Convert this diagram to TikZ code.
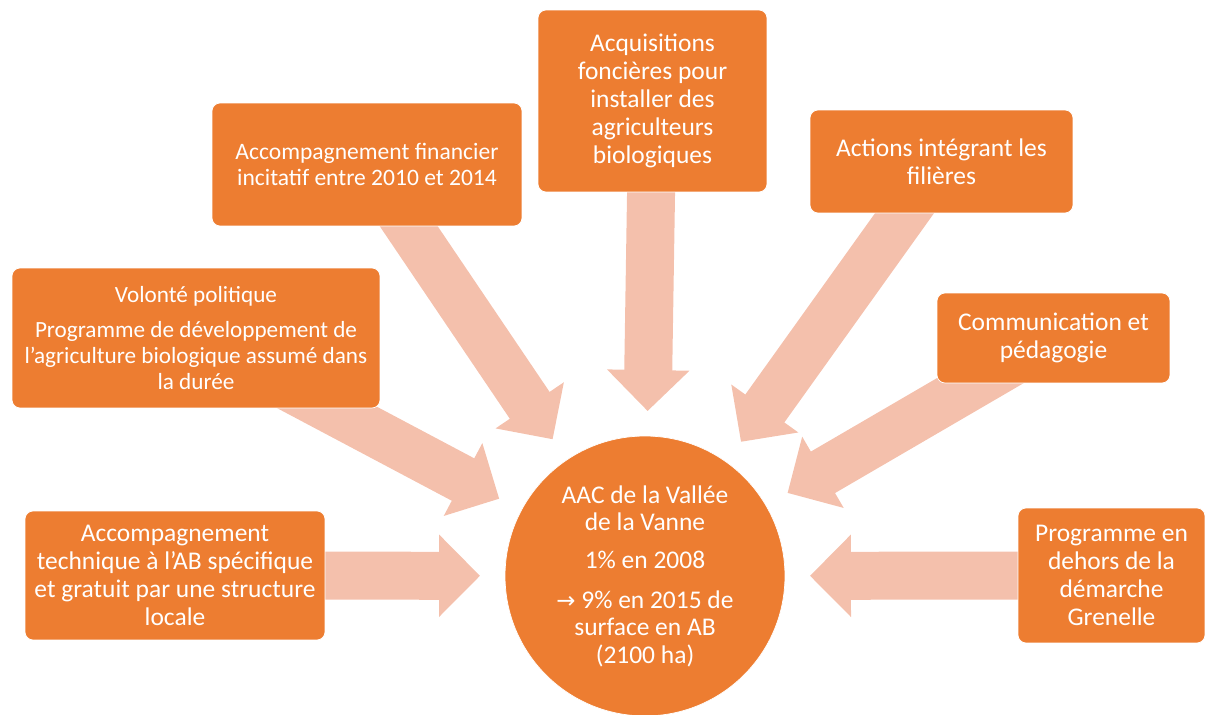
\documentclass[tikz,border=0pt]{standalone}
\usepackage{fontspec}
\setmainfont{Carlito}
\newfontfamily\symfont{DejaVu Sans}
\usetikzlibrary{arrows.meta,backgrounds}
\definecolor{boxorange}{HTML}{ED7D31}
\definecolor{arrowpink}{HTML}{F4C0AC}
\tikzstyle{box}=[draw=white,%
                 fill=boxorange,%
                 rectangle,%
                 rounded corners=0.16cm,%
                 text=white,%
                 align=center,%
                 inner sep=0pt,%
                 font=\fontsize{14.5}{15.9}\selectfont]
\tikzstyle{smallbox}=[box,font=\fontsize{13.2}{14.8}\selectfont]
\tikzstyle{hub}=[draw=white,fill=boxorange,circle,minimum size=5.6cm,text=white,align=center,outer sep=0.5cm,font=\fontsize{14.5}{15.6}\selectfont]
\tikzstyle{bigarrow}=[arrowpink,line width=0.96cm,-{Triangle[width=1.6cm,length=0.82cm]}]

\begin{document}
\begin{tikzpicture}[x=0.02cm,y=-0.02cm]
  \useasboundingbox (0,0) rectangle (1208,715);
  \node[hub] (aac) at (645,576) {AAC de la Vallée\\de la Vanne\\[6pt]1\% en 2008\\[7pt]{\symfont\fontsize{13}{15.6}\selectfont →} 9\% en 2015 de\\surface en AB\\(2100 ha)};
  \node[smallbox,minimum width=7.36cm,minimum height=2.8cm] (vol) at (196,338) {Volonté politique\\[5pt]Programme de développement de\\l’agriculture biologique assumé dans\\la durée};
  \node[smallbox,minimum width=6.2cm,minimum height=2.46cm,font=\fontsize{13.4}{15.3}\selectfont] (fin) at (367,164.5) {Accompagnement financier\\incitatif entre 2010 et 2014};
  \node[box,minimum width=4.58cm,minimum height=3.64cm] (acq) at (652.5,101) {Acquisitions\\foncières pour\\installer des\\agriculteurs\\biologiques};
  \node[box,minimum width=5.26cm,minimum height=2.06cm] (act) at (941.5,161.5) {Actions intégrant les\\filières};
  \node[box,minimum width=4.66cm,minimum height=1.8cm] (com) at (1053.5,338) {Communication et\\pédagogie};
  \node[box,minimum width=3.74cm,minimum height=2.7cm] (gre) at (1111.5,575.5) {Programme en\\dehors de la\\démarche\\Grenelle};
  \node[box,minimum width=6.0cm,minimum height=2.58cm] (tec) at (175,575.5) {Accompagnement\\technique à l’AB spécifique\\et gratuit par une structure\\locale};
  \begin{scope}[on background layer]
    \draw [bigarrow] (vol.center) -- (aac);
    \draw [bigarrow] (fin.center) -- (aac);
    \draw [bigarrow] (acq.center) -- (aac);
    \draw [bigarrow] (act.center) -- (aac);
    \draw [bigarrow] (com.center) -- (aac);
    \draw [bigarrow] (gre.center) -- (aac);
    \draw [bigarrow] (tec.center) -- (aac);
  \end{scope}
\end{tikzpicture}
\end{document}
